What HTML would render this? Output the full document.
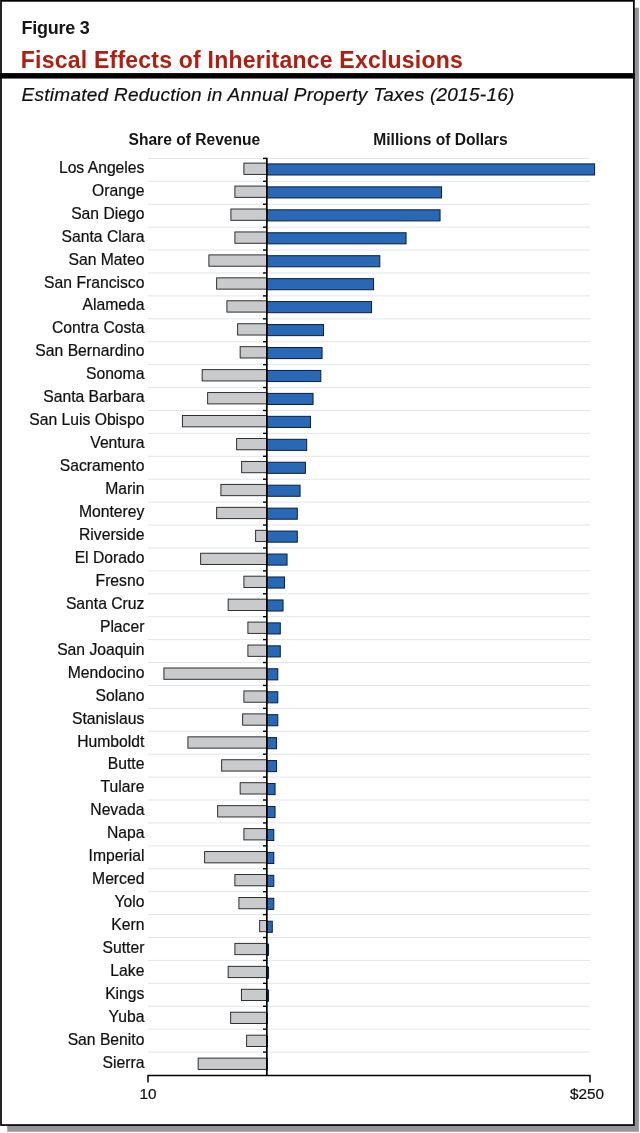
<!DOCTYPE html>
<html lang="en"><head><meta charset="utf-8"><title>Figure 3 - Fiscal Effects of Inheritance Exclusions</title>
<style>
html,body{margin:0;padding:0;background:#fff;}
body{width:640px;height:1133px;overflow:hidden;}
svg{display:block;font-family:"Liberation Sans",Arial,Helvetica,sans-serif;}
.lbl{font-size:15.7px;fill:#111;stroke:#111;stroke-width:0.22px;text-anchor:end;}
.hd{font-size:15.6px;font-weight:bold;fill:#151515;}
.ax{font-size:15.3px;fill:#111;stroke:#111;stroke-width:0.22px;text-anchor:middle;}
</style></head><body>
<svg width="640" height="1133" viewBox="0 0 640 1133">

<path d="M7.2,1125 H634 V7.8 H638.9 V1131.8 H7.2 Z" fill="#939598"/>
<rect x="1" y="0.85" width="632.9" height="1124.2" fill="#fff" stroke="#000" stroke-width="1.7"/>
<rect x="0.2" y="73.1" width="634.5" height="5.45" fill="#000"/>
<text id="t1" textLength="68.4" lengthAdjust="spacing" x="21.4" y="33.75" font-size="18" font-weight="bold" fill="#151515">Figure 3</text>
<text id="t2" textLength="442" lengthAdjust="spacing" x="20.8" y="68.4" font-size="23" font-weight="bold" fill="#b01e12">Fiscal Effects of Inheritance Exclusions</text>
<text id="t3" textLength="492.8" lengthAdjust="spacing" x="21.6" y="100.6" font-size="19" font-style="italic" fill="#111" stroke="#111" stroke-width="0.2">Estimated Reduction in Annual Property Taxes (2015-16)</text>
<text id="t4" class="hd" x="128.5" y="144.5">Share of Revenue</text>
<text id="t5" class="hd" x="373.3" y="144.5">Millions of Dollars</text>
<line x1="148" x2="590" y1="158.40" y2="158.40" stroke="#e4e5e7" stroke-width="1"/>
<line x1="263" x2="267" y1="158.40" y2="158.40" stroke="#000" stroke-width="1.4"/>
<line x1="148" x2="590" y1="181.31" y2="181.31" stroke="#e4e5e7" stroke-width="1"/>
<line x1="263" x2="267" y1="181.31" y2="181.31" stroke="#000" stroke-width="1.4"/>
<line x1="148" x2="590" y1="204.23" y2="204.23" stroke="#e4e5e7" stroke-width="1"/>
<line x1="263" x2="267" y1="204.23" y2="204.23" stroke="#000" stroke-width="1.4"/>
<line x1="148" x2="590" y1="227.15" y2="227.15" stroke="#e4e5e7" stroke-width="1"/>
<line x1="263" x2="267" y1="227.15" y2="227.15" stroke="#000" stroke-width="1.4"/>
<line x1="148" x2="590" y1="250.06" y2="250.06" stroke="#e4e5e7" stroke-width="1"/>
<line x1="263" x2="267" y1="250.06" y2="250.06" stroke="#000" stroke-width="1.4"/>
<line x1="148" x2="590" y1="272.98" y2="272.98" stroke="#e4e5e7" stroke-width="1"/>
<line x1="263" x2="267" y1="272.98" y2="272.98" stroke="#000" stroke-width="1.4"/>
<line x1="148" x2="590" y1="295.89" y2="295.89" stroke="#e4e5e7" stroke-width="1"/>
<line x1="263" x2="267" y1="295.89" y2="295.89" stroke="#000" stroke-width="1.4"/>
<line x1="148" x2="590" y1="318.81" y2="318.81" stroke="#e4e5e7" stroke-width="1"/>
<line x1="263" x2="267" y1="318.81" y2="318.81" stroke="#000" stroke-width="1.4"/>
<line x1="148" x2="590" y1="341.72" y2="341.72" stroke="#e4e5e7" stroke-width="1"/>
<line x1="263" x2="267" y1="341.72" y2="341.72" stroke="#000" stroke-width="1.4"/>
<line x1="148" x2="590" y1="364.63" y2="364.63" stroke="#e4e5e7" stroke-width="1"/>
<line x1="263" x2="267" y1="364.63" y2="364.63" stroke="#000" stroke-width="1.4"/>
<line x1="148" x2="590" y1="387.55" y2="387.55" stroke="#e4e5e7" stroke-width="1"/>
<line x1="263" x2="267" y1="387.55" y2="387.55" stroke="#000" stroke-width="1.4"/>
<line x1="148" x2="590" y1="410.47" y2="410.47" stroke="#e4e5e7" stroke-width="1"/>
<line x1="263" x2="267" y1="410.47" y2="410.47" stroke="#000" stroke-width="1.4"/>
<line x1="148" x2="590" y1="433.38" y2="433.38" stroke="#e4e5e7" stroke-width="1"/>
<line x1="263" x2="267" y1="433.38" y2="433.38" stroke="#000" stroke-width="1.4"/>
<line x1="148" x2="590" y1="456.29" y2="456.29" stroke="#e4e5e7" stroke-width="1"/>
<line x1="263" x2="267" y1="456.29" y2="456.29" stroke="#000" stroke-width="1.4"/>
<line x1="148" x2="590" y1="479.21" y2="479.21" stroke="#e4e5e7" stroke-width="1"/>
<line x1="263" x2="267" y1="479.21" y2="479.21" stroke="#000" stroke-width="1.4"/>
<line x1="148" x2="590" y1="502.12" y2="502.12" stroke="#e4e5e7" stroke-width="1"/>
<line x1="263" x2="267" y1="502.12" y2="502.12" stroke="#000" stroke-width="1.4"/>
<line x1="148" x2="590" y1="525.04" y2="525.04" stroke="#e4e5e7" stroke-width="1"/>
<line x1="263" x2="267" y1="525.04" y2="525.04" stroke="#000" stroke-width="1.4"/>
<line x1="148" x2="590" y1="547.96" y2="547.96" stroke="#e4e5e7" stroke-width="1"/>
<line x1="263" x2="267" y1="547.96" y2="547.96" stroke="#000" stroke-width="1.4"/>
<line x1="148" x2="590" y1="570.87" y2="570.87" stroke="#e4e5e7" stroke-width="1"/>
<line x1="263" x2="267" y1="570.87" y2="570.87" stroke="#000" stroke-width="1.4"/>
<line x1="148" x2="590" y1="593.78" y2="593.78" stroke="#e4e5e7" stroke-width="1"/>
<line x1="263" x2="267" y1="593.78" y2="593.78" stroke="#000" stroke-width="1.4"/>
<line x1="148" x2="590" y1="616.70" y2="616.70" stroke="#e4e5e7" stroke-width="1"/>
<line x1="263" x2="267" y1="616.70" y2="616.70" stroke="#000" stroke-width="1.4"/>
<line x1="148" x2="590" y1="639.62" y2="639.62" stroke="#e4e5e7" stroke-width="1"/>
<line x1="263" x2="267" y1="639.62" y2="639.62" stroke="#000" stroke-width="1.4"/>
<line x1="148" x2="590" y1="662.53" y2="662.53" stroke="#e4e5e7" stroke-width="1"/>
<line x1="263" x2="267" y1="662.53" y2="662.53" stroke="#000" stroke-width="1.4"/>
<line x1="148" x2="590" y1="685.44" y2="685.44" stroke="#e4e5e7" stroke-width="1"/>
<line x1="263" x2="267" y1="685.44" y2="685.44" stroke="#000" stroke-width="1.4"/>
<line x1="148" x2="590" y1="708.36" y2="708.36" stroke="#e4e5e7" stroke-width="1"/>
<line x1="263" x2="267" y1="708.36" y2="708.36" stroke="#000" stroke-width="1.4"/>
<line x1="148" x2="590" y1="731.27" y2="731.27" stroke="#e4e5e7" stroke-width="1"/>
<line x1="263" x2="267" y1="731.27" y2="731.27" stroke="#000" stroke-width="1.4"/>
<line x1="148" x2="590" y1="754.19" y2="754.19" stroke="#e4e5e7" stroke-width="1"/>
<line x1="263" x2="267" y1="754.19" y2="754.19" stroke="#000" stroke-width="1.4"/>
<line x1="148" x2="590" y1="777.10" y2="777.10" stroke="#e4e5e7" stroke-width="1"/>
<line x1="263" x2="267" y1="777.10" y2="777.10" stroke="#000" stroke-width="1.4"/>
<line x1="148" x2="590" y1="800.02" y2="800.02" stroke="#e4e5e7" stroke-width="1"/>
<line x1="263" x2="267" y1="800.02" y2="800.02" stroke="#000" stroke-width="1.4"/>
<line x1="148" x2="590" y1="822.93" y2="822.93" stroke="#e4e5e7" stroke-width="1"/>
<line x1="263" x2="267" y1="822.93" y2="822.93" stroke="#000" stroke-width="1.4"/>
<line x1="148" x2="590" y1="845.85" y2="845.85" stroke="#e4e5e7" stroke-width="1"/>
<line x1="263" x2="267" y1="845.85" y2="845.85" stroke="#000" stroke-width="1.4"/>
<line x1="148" x2="590" y1="868.76" y2="868.76" stroke="#e4e5e7" stroke-width="1"/>
<line x1="263" x2="267" y1="868.76" y2="868.76" stroke="#000" stroke-width="1.4"/>
<line x1="148" x2="590" y1="891.68" y2="891.68" stroke="#e4e5e7" stroke-width="1"/>
<line x1="263" x2="267" y1="891.68" y2="891.68" stroke="#000" stroke-width="1.4"/>
<line x1="148" x2="590" y1="914.59" y2="914.59" stroke="#e4e5e7" stroke-width="1"/>
<line x1="263" x2="267" y1="914.59" y2="914.59" stroke="#000" stroke-width="1.4"/>
<line x1="148" x2="590" y1="937.51" y2="937.51" stroke="#e4e5e7" stroke-width="1"/>
<line x1="263" x2="267" y1="937.51" y2="937.51" stroke="#000" stroke-width="1.4"/>
<line x1="148" x2="590" y1="960.42" y2="960.42" stroke="#e4e5e7" stroke-width="1"/>
<line x1="263" x2="267" y1="960.42" y2="960.42" stroke="#000" stroke-width="1.4"/>
<line x1="148" x2="590" y1="983.34" y2="983.34" stroke="#e4e5e7" stroke-width="1"/>
<line x1="263" x2="267" y1="983.34" y2="983.34" stroke="#000" stroke-width="1.4"/>
<line x1="148" x2="590" y1="1006.25" y2="1006.25" stroke="#e4e5e7" stroke-width="1"/>
<line x1="263" x2="267" y1="1006.25" y2="1006.25" stroke="#000" stroke-width="1.4"/>
<line x1="148" x2="590" y1="1029.17" y2="1029.17" stroke="#e4e5e7" stroke-width="1"/>
<line x1="263" x2="267" y1="1029.17" y2="1029.17" stroke="#000" stroke-width="1.4"/>
<line x1="148" x2="590" y1="1052.09" y2="1052.09" stroke="#e4e5e7" stroke-width="1"/>
<line x1="263" x2="267" y1="1052.09" y2="1052.09" stroke="#000" stroke-width="1.4"/>
<rect x="243.90" y="163.10" width="22.95" height="11.30" fill="#c9cacc" stroke="#1c1c1c" stroke-width="0.9"/>
<rect x="266.85" y="163.90" width="327.75" height="11.10" fill="#2868b4" stroke="#0b1e40" stroke-width="1"/>
<text class="lbl" x="144.4" y="172.80">Los Angeles</text>
<rect x="234.90" y="186.05" width="31.95" height="11.30" fill="#c9cacc" stroke="#1c1c1c" stroke-width="0.9"/>
<rect x="266.85" y="186.85" width="174.70" height="11.10" fill="#2868b4" stroke="#0b1e40" stroke-width="1"/>
<text class="lbl" x="144.4" y="195.75">Orange</text>
<rect x="230.90" y="209.00" width="35.95" height="11.30" fill="#c9cacc" stroke="#1c1c1c" stroke-width="0.9"/>
<rect x="266.85" y="209.80" width="173.20" height="11.10" fill="#2868b4" stroke="#0b1e40" stroke-width="1"/>
<text class="lbl" x="144.4" y="218.70">San Diego</text>
<rect x="234.90" y="231.95" width="31.95" height="11.30" fill="#c9cacc" stroke="#1c1c1c" stroke-width="0.9"/>
<rect x="266.85" y="232.75" width="139.20" height="11.10" fill="#2868b4" stroke="#0b1e40" stroke-width="1"/>
<text class="lbl" x="144.4" y="241.65">Santa Clara</text>
<rect x="208.90" y="254.90" width="57.95" height="11.30" fill="#c9cacc" stroke="#1c1c1c" stroke-width="0.9"/>
<rect x="266.85" y="255.70" width="112.95" height="11.10" fill="#2868b4" stroke="#0b1e40" stroke-width="1"/>
<text class="lbl" x="144.4" y="264.60">San Mateo</text>
<rect x="216.65" y="277.84" width="50.20" height="11.30" fill="#c9cacc" stroke="#1c1c1c" stroke-width="0.9"/>
<rect x="266.85" y="278.64" width="106.70" height="11.10" fill="#2868b4" stroke="#0b1e40" stroke-width="1"/>
<text class="lbl" x="144.4" y="287.55">San Francisco</text>
<rect x="226.90" y="300.79" width="39.95" height="11.30" fill="#c9cacc" stroke="#1c1c1c" stroke-width="0.9"/>
<rect x="266.85" y="301.59" width="104.70" height="11.10" fill="#2868b4" stroke="#0b1e40" stroke-width="1"/>
<text class="lbl" x="144.4" y="310.49">Alameda</text>
<rect x="237.65" y="323.74" width="29.20" height="11.30" fill="#c9cacc" stroke="#1c1c1c" stroke-width="0.9"/>
<rect x="266.85" y="324.54" width="56.70" height="11.10" fill="#2868b4" stroke="#0b1e40" stroke-width="1"/>
<text class="lbl" x="144.4" y="333.44">Contra Costa</text>
<rect x="240.15" y="346.69" width="26.70" height="11.30" fill="#c9cacc" stroke="#1c1c1c" stroke-width="0.9"/>
<rect x="266.85" y="347.49" width="55.20" height="11.10" fill="#2868b4" stroke="#0b1e40" stroke-width="1"/>
<text class="lbl" x="144.4" y="356.39">San Bernardino</text>
<rect x="202.15" y="369.64" width="64.70" height="11.30" fill="#c9cacc" stroke="#1c1c1c" stroke-width="0.9"/>
<rect x="266.85" y="370.44" width="53.95" height="11.10" fill="#2868b4" stroke="#0b1e40" stroke-width="1"/>
<text class="lbl" x="144.4" y="379.34">Sonoma</text>
<rect x="207.65" y="392.59" width="59.20" height="11.30" fill="#c9cacc" stroke="#1c1c1c" stroke-width="0.9"/>
<rect x="266.85" y="393.39" width="46.20" height="11.10" fill="#2868b4" stroke="#0b1e40" stroke-width="1"/>
<text class="lbl" x="144.4" y="402.29">Santa Barbara</text>
<rect x="182.40" y="415.54" width="84.45" height="11.30" fill="#c9cacc" stroke="#1c1c1c" stroke-width="0.9"/>
<rect x="266.85" y="416.34" width="43.70" height="11.10" fill="#2868b4" stroke="#0b1e40" stroke-width="1"/>
<text class="lbl" x="144.4" y="425.24">San Luis Obispo</text>
<rect x="236.65" y="438.49" width="30.20" height="11.30" fill="#c9cacc" stroke="#1c1c1c" stroke-width="0.9"/>
<rect x="266.85" y="439.29" width="39.85" height="11.10" fill="#2868b4" stroke="#0b1e40" stroke-width="1"/>
<text class="lbl" x="144.4" y="448.19">Ventura</text>
<rect x="241.65" y="461.44" width="25.20" height="11.30" fill="#c9cacc" stroke="#1c1c1c" stroke-width="0.9"/>
<rect x="266.85" y="462.24" width="38.55" height="11.10" fill="#2868b4" stroke="#0b1e40" stroke-width="1"/>
<text class="lbl" x="144.4" y="471.14">Sacramento</text>
<rect x="220.90" y="484.39" width="45.95" height="11.30" fill="#c9cacc" stroke="#1c1c1c" stroke-width="0.9"/>
<rect x="266.85" y="485.19" width="33.20" height="11.10" fill="#2868b4" stroke="#0b1e40" stroke-width="1"/>
<text class="lbl" x="144.4" y="494.09">Marin</text>
<rect x="216.65" y="507.33" width="50.20" height="11.30" fill="#c9cacc" stroke="#1c1c1c" stroke-width="0.9"/>
<rect x="266.85" y="508.13" width="30.45" height="11.10" fill="#2868b4" stroke="#0b1e40" stroke-width="1"/>
<text class="lbl" x="144.4" y="517.04">Monterey</text>
<rect x="255.65" y="530.28" width="11.20" height="11.30" fill="#c9cacc" stroke="#1c1c1c" stroke-width="0.9"/>
<rect x="266.85" y="531.08" width="30.45" height="11.10" fill="#2868b4" stroke="#0b1e40" stroke-width="1"/>
<text class="lbl" x="144.4" y="539.98">Riverside</text>
<rect x="200.65" y="553.23" width="66.20" height="11.30" fill="#c9cacc" stroke="#1c1c1c" stroke-width="0.9"/>
<rect x="266.85" y="554.03" width="20.20" height="11.10" fill="#2868b4" stroke="#0b1e40" stroke-width="1"/>
<text class="lbl" x="144.4" y="562.93">El Dorado</text>
<rect x="243.90" y="576.18" width="22.95" height="11.30" fill="#c9cacc" stroke="#1c1c1c" stroke-width="0.9"/>
<rect x="266.85" y="576.98" width="17.70" height="11.10" fill="#2868b4" stroke="#0b1e40" stroke-width="1"/>
<text class="lbl" x="144.4" y="585.88">Fresno</text>
<rect x="228.15" y="599.13" width="38.70" height="11.30" fill="#c9cacc" stroke="#1c1c1c" stroke-width="0.9"/>
<rect x="266.85" y="599.93" width="16.20" height="11.10" fill="#2868b4" stroke="#0b1e40" stroke-width="1"/>
<text class="lbl" x="144.4" y="608.83">Santa Cruz</text>
<rect x="247.90" y="622.08" width="18.95" height="11.30" fill="#c9cacc" stroke="#1c1c1c" stroke-width="0.9"/>
<rect x="266.85" y="622.88" width="13.45" height="11.10" fill="#2868b4" stroke="#0b1e40" stroke-width="1"/>
<text class="lbl" x="144.4" y="631.78">Placer</text>
<rect x="247.90" y="645.03" width="18.95" height="11.30" fill="#c9cacc" stroke="#1c1c1c" stroke-width="0.9"/>
<rect x="266.85" y="645.83" width="13.45" height="11.10" fill="#2868b4" stroke="#0b1e40" stroke-width="1"/>
<text class="lbl" x="144.4" y="654.73">San Joaquin</text>
<rect x="163.90" y="667.98" width="102.95" height="11.30" fill="#c9cacc" stroke="#1c1c1c" stroke-width="0.9"/>
<rect x="266.85" y="668.78" width="10.95" height="11.10" fill="#2868b4" stroke="#0b1e40" stroke-width="1"/>
<text class="lbl" x="144.4" y="677.68">Mendocino</text>
<rect x="243.90" y="690.93" width="22.95" height="11.30" fill="#c9cacc" stroke="#1c1c1c" stroke-width="0.9"/>
<rect x="266.85" y="691.73" width="10.95" height="11.10" fill="#2868b4" stroke="#0b1e40" stroke-width="1"/>
<text class="lbl" x="144.4" y="700.63">Solano</text>
<rect x="242.65" y="713.88" width="24.20" height="11.30" fill="#c9cacc" stroke="#1c1c1c" stroke-width="0.9"/>
<rect x="266.85" y="714.68" width="10.95" height="11.10" fill="#2868b4" stroke="#0b1e40" stroke-width="1"/>
<text class="lbl" x="144.4" y="723.58">Stanislaus</text>
<rect x="187.90" y="736.83" width="78.95" height="11.30" fill="#c9cacc" stroke="#1c1c1c" stroke-width="0.9"/>
<rect x="266.85" y="737.63" width="9.70" height="11.10" fill="#2868b4" stroke="#0b1e40" stroke-width="1"/>
<text class="lbl" x="144.4" y="746.53">Humboldt</text>
<rect x="221.65" y="759.77" width="45.20" height="11.30" fill="#c9cacc" stroke="#1c1c1c" stroke-width="0.9"/>
<rect x="266.85" y="760.57" width="9.70" height="11.10" fill="#2868b4" stroke="#0b1e40" stroke-width="1"/>
<text class="lbl" x="144.4" y="769.47">Butte</text>
<rect x="240.15" y="782.72" width="26.70" height="11.30" fill="#c9cacc" stroke="#1c1c1c" stroke-width="0.9"/>
<rect x="266.85" y="783.52" width="8.20" height="11.10" fill="#2868b4" stroke="#0b1e40" stroke-width="1"/>
<text class="lbl" x="144.4" y="792.42">Tulare</text>
<rect x="217.65" y="805.67" width="49.20" height="11.30" fill="#c9cacc" stroke="#1c1c1c" stroke-width="0.9"/>
<rect x="266.85" y="806.47" width="8.20" height="11.10" fill="#2868b4" stroke="#0b1e40" stroke-width="1"/>
<text class="lbl" x="144.4" y="815.37">Nevada</text>
<rect x="243.90" y="828.62" width="22.95" height="11.30" fill="#c9cacc" stroke="#1c1c1c" stroke-width="0.9"/>
<rect x="266.85" y="829.42" width="6.95" height="11.10" fill="#2868b4" stroke="#0b1e40" stroke-width="1"/>
<text class="lbl" x="144.4" y="838.32">Napa</text>
<rect x="204.65" y="851.57" width="62.20" height="11.30" fill="#c9cacc" stroke="#1c1c1c" stroke-width="0.9"/>
<rect x="266.85" y="852.37" width="6.95" height="11.10" fill="#2868b4" stroke="#0b1e40" stroke-width="1"/>
<text class="lbl" x="144.4" y="861.27">Imperial</text>
<rect x="234.90" y="874.52" width="31.95" height="11.30" fill="#c9cacc" stroke="#1c1c1c" stroke-width="0.9"/>
<rect x="266.85" y="875.32" width="6.95" height="11.10" fill="#2868b4" stroke="#0b1e40" stroke-width="1"/>
<text class="lbl" x="144.4" y="884.22">Merced</text>
<rect x="238.90" y="897.47" width="27.95" height="11.30" fill="#c9cacc" stroke="#1c1c1c" stroke-width="0.9"/>
<rect x="266.85" y="898.27" width="6.95" height="11.10" fill="#2868b4" stroke="#0b1e40" stroke-width="1"/>
<text class="lbl" x="144.4" y="907.17">Yolo</text>
<rect x="259.65" y="920.42" width="7.20" height="11.30" fill="#c9cacc" stroke="#1c1c1c" stroke-width="0.9"/>
<rect x="266.85" y="921.22" width="5.45" height="11.10" fill="#2868b4" stroke="#0b1e40" stroke-width="1"/>
<text class="lbl" x="144.4" y="930.12">Kern</text>
<rect x="234.90" y="943.37" width="31.95" height="11.30" fill="#c9cacc" stroke="#1c1c1c" stroke-width="0.9"/>
<rect x="266.85" y="944.17" width="1.70" height="11.10" fill="#2868b4" stroke="#0b1e40" stroke-width="1"/>
<text class="lbl" x="144.4" y="953.07">Sutter</text>
<rect x="228.15" y="966.32" width="38.70" height="11.30" fill="#c9cacc" stroke="#1c1c1c" stroke-width="0.9"/>
<rect x="266.85" y="967.12" width="1.70" height="11.10" fill="#2868b4" stroke="#0b1e40" stroke-width="1"/>
<text class="lbl" x="144.4" y="976.02">Lake</text>
<rect x="241.40" y="989.26" width="25.45" height="11.30" fill="#c9cacc" stroke="#1c1c1c" stroke-width="0.9"/>
<rect x="266.85" y="990.06" width="1.70" height="11.10" fill="#2868b4" stroke="#0b1e40" stroke-width="1"/>
<text class="lbl" x="144.4" y="998.96">Kings</text>
<rect x="230.65" y="1012.21" width="36.20" height="11.30" fill="#c9cacc" stroke="#1c1c1c" stroke-width="0.9"/>
<rect x="266.85" y="1013.01" width="0.45" height="11.10" fill="#2868b4" stroke="#0b1e40" stroke-width="1"/>
<text class="lbl" x="144.4" y="1021.91">Yuba</text>
<rect x="246.65" y="1035.16" width="20.20" height="11.30" fill="#c9cacc" stroke="#1c1c1c" stroke-width="0.9"/>
<rect x="266.85" y="1035.96" width="0.45" height="11.10" fill="#2868b4" stroke="#0b1e40" stroke-width="1"/>
<text class="lbl" x="144.4" y="1044.86">San Benito</text>
<rect x="198.15" y="1058.11" width="68.70" height="11.30" fill="#c9cacc" stroke="#1c1c1c" stroke-width="0.9"/>
<rect x="266.85" y="1058.91" width="0.45" height="11.10" fill="#2868b4" stroke="#0b1e40" stroke-width="1"/>
<text class="lbl" x="144.4" y="1067.81">Sierra</text>
<line x1="266.85" x2="266.85" y1="157.70" y2="1075.4" stroke="#000" stroke-width="1.7"/>
<polyline points="148,1082.4 148,1075.4 590,1075.4 590,1082.4" fill="none" stroke="#000" stroke-width="1.5"/>
<text class="ax" x="148" y="1098.8">10</text>
<text class="ax" x="587" y="1098.8">$250</text>
</svg></body></html>
